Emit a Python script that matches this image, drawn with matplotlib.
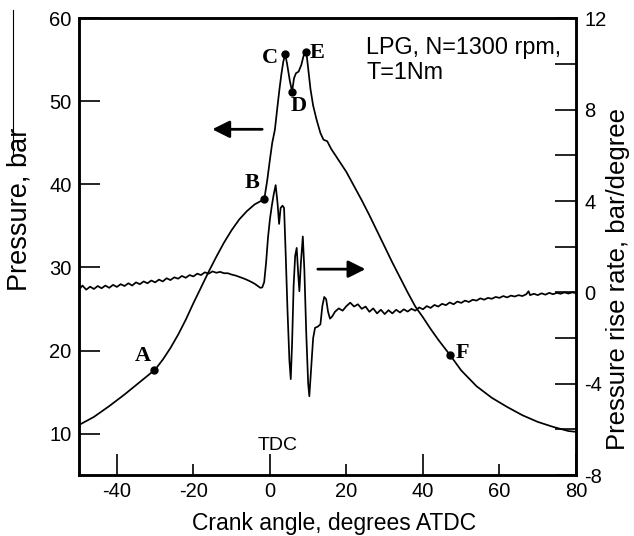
import matplotlib.pyplot as plt
from matplotlib.lines import Line2D

# Dane
p_angle = [-50, -46, -42, -38, -34, -30, -28, -26, -24, -22, -20, -18, -16, -14, -12, -10,
           -8, -6, -4, -2, -1.45, -0.7, 0.0, 0.6, 1.3, 2.0, 2.5, 3.0, 3.5, 4.0, 4.5, 5.2, 5.8,
           6.3, 6.8, 7.5, 8.2, 8.8, 9.5, 10.0, 10.6, 11.3, 12.2, 13.2, 14.0, 15.0, 16.0, 18.0,
           20.0, 22.0, 24.0, 26.0, 28.0, 30.0, 32.0, 34.0, 36.0, 38.0, 40.0, 42.0, 44.0, 47.0,
           50.0, 54.0, 58.0, 62.0, 66.0, 70.0, 74.0, 78.0, 80.0]
pressure = [11.0, 12.0, 13.3, 14.7, 16.2, 17.7, 18.9, 20.3, 21.9, 23.7, 25.7, 27.6, 29.5, 31.3,
            33.0, 34.5, 35.8, 36.8, 37.6, 38.1, 38.3, 40.5, 43.0, 45.0, 46.6, 49.5, 51.5, 53.3,
            54.8, 55.7, 54.5, 52.5, 51.2, 52.8, 53.4, 53.6, 54.4, 55.5, 56.0, 54.0, 51.5, 49.5,
            47.8, 46.2, 45.4, 45.2, 44.3, 42.9, 41.5, 39.8, 38.1, 36.3, 34.4, 32.5, 30.6, 28.8,
            27.0, 25.3, 24.0, 22.6, 21.3, 19.5, 17.6, 15.7, 14.3, 13.2, 12.2, 11.4, 10.8, 10.3,
            10.2]

r_angle = [-50, -49, -48, -47, -46, -45, -44, -43, -42, -41, -40, -39, -38, -37, -36, -35,
           -34, -33, -32, -31, -30, -29, -28, -27, -26, -25, -24, -23, -22, -21, -20, -19,
           -18, -17, -16, -15, -14, -13, -12, -11, -10, -9, -8, -7, -6, -5, -4, -3, -2.5,
           -2.0, -1.5, -1.0, -0.5, 0.0, 0.5, 1.0, 1.5, 2.0, 2.4, 2.8, 3.3, 3.7, 4.1, 4.6, 5.1,
           5.45, 5.8, 6.2, 6.6, 7.0, 7.4, 7.7, 8.1, 8.6, 9.0, 9.5, 10.0, 10.3, 10.8, 11.3,
           11.8, 12.5, 13.2, 13.7, 14.2, 14.7, 15.2, 15.7, 16.3, 17, 18, 19, 20, 21, 22, 23,
           24, 25, 26, 27, 28, 29, 30, 31, 32, 33, 34, 35, 36, 37, 38, 39, 40, 41, 42, 43,
           44, 45, 46, 47, 48, 49, 50, 51, 52, 53, 54, 55, 56, 57, 58, 59, 60, 61, 62, 63,
           64, 65, 66, 67, 67.6, 68, 69, 70, 71, 72, 73, 74, 75, 76, 77, 78, 79, 80]
rate = [0.10, 0.30, 0.12, 0.25, 0.15, 0.28, 0.18, 0.30, 0.20, 0.33, 0.24, 0.36, 0.28, 0.40,
        0.30, 0.44, 0.36, 0.48, 0.40, 0.52, 0.44, 0.56, 0.48, 0.62, 0.54, 0.66, 0.60, 0.72,
        0.64, 0.76, 0.70, 0.82, 0.76, 0.88, 0.82, 0.92, 0.86, 0.90, 0.84, 0.84, 0.78, 0.74,
        0.68, 0.62, 0.55, 0.47, 0.38, 0.26, 0.20, 0.22, 0.45, 1.30, 2.40, 3.20, 3.80, 4.30,
        4.70, 3.90, 3.00, 3.70, 3.80, 3.70, 1.80, -0.80, -3.00, -3.80, -2.20, 0.30, 1.60,
        1.95, 0.80, 0.05, 1.30, 2.45, 1.00, -1.80, -4.00, -4.55, -3.30, -2.00, -1.55, -1.50,
        -1.40, -0.60, -0.20, -0.30, -0.85, -1.15, -1.05, -0.85, -0.70, -0.80, -0.60, -0.45,
        -0.62, -0.52, -0.72, -0.62, -0.85, -0.70, -0.92, -0.76, -0.95, -0.78, -0.92, -0.76,
        -0.88, -0.74, -0.84, -0.72, -0.80, -0.66, -0.74, -0.60, -0.68, -0.55, -0.62, -0.50,
        -0.56, -0.44, -0.52, -0.40, -0.46, -0.36, -0.42, -0.32, -0.36, -0.26, -0.32, -0.24,
        -0.28, -0.20, -0.24, -0.16, -0.22, -0.14, -0.18, -0.12, -0.16, -0.08, 0.05, -0.12,
        -0.06, -0.12, -0.04, -0.10, -0.02, -0.08, -0.02, -0.06, 0.00, -0.05, 0.00, -0.03]

# punkty charakterystyczne A-F
pt_names = ['A', 'B', 'C', 'D', 'E', 'F']
pt_angle = [-30.2, -1.45, 4.0, 5.8, 9.5, 47.0]
pt_pressure = [17.6, 38.3, 55.7, 51.2, 56.0, 19.5]
pt_label_x = [-33.1, -4.6, -0.1, 7.4, 12.3, 50.3]
pt_label_y = [19.3, 40.2, 55.2, 49.5, 55.8, 19.7]

plt.rcParams['font.family'] = ['Liberation Sans', 'DejaVu Sans']
plt.rcParams['axes.unicode_minus'] = False

fig = plt.figure(figsize=(6.34, 5.36), dpi=100)
ax = fig.add_axes([0.124, 0.1138, 0.7845, 0.8517])
ax2 = ax.twinx()

ax.plot(p_angle, pressure, color='black', lw=1.25)
ax.plot(pt_angle, pt_pressure, 'o', color='black', ms=5)
ax2.plot(r_angle, rate, color='black', lw=1.25)

for name, lx, ly in zip(pt_names, pt_label_x, pt_label_y):
    ax.text(lx, ly, name, ha='center', va='center', fontsize=16, fontweight='bold',
            family='Liberation Serif')

ax.set_xlim(-50, 80)
ax.set_ylim(5, 60)
ax2.set_ylim(-8, 12)

# osie i podziałki
ax.set_xticks([-40, 0, 40, 80])
ax.set_xticks([-20, 20, 60], minor=True)
ax.set_xticklabels(['-40', '0', '40', '80'])
ax.set_xticklabels(['-20', '20', '60'], minor=True)
ax.tick_params(axis='x', which='major', direction='in', length=15, width=1.2, labelsize=14.5, pad=5)
ax.tick_params(axis='x', which='minor', direction='in', length=8, width=1.2, labelsize=14.5, pad=5)
ax.set_yticks([10, 20, 30, 40, 50, 60])
ax.tick_params(axis='y', direction='in', length=15, width=1.2, labelsize=14.5, pad=5)
ax2.set_yticks([-8, -4, 0, 4, 8, 12])
ax2.set_yticks([-6, -2, 2, 6, 10], minor=True)
ax2.tick_params(axis='y', which='both', direction='in', length=15, width=1.2, labelsize=14.5, pad=6)

for a in (ax, ax2):
    for s in a.spines.values():
        s.set_linewidth(1.8)

ax.set_xlabel('Crank angle, degrees ATDC', fontsize=16.5)
ax.xaxis.set_label_coords(0.514, -0.08)
ax.set_ylabel('Pressure, bar', fontsize=19.5)
ax.yaxis.set_label_coords(-0.092, 0.582)
ax2.set_ylabel('Pressure rise rate, bar/degree', fontsize=18.5)
ax2.yaxis.set_label_coords(1.06, 0.43)

# strzałki
ax.annotate('', xy=(-15.8, 46.65), xytext=(-1.3, 46.65),
            arrowprops=dict(arrowstyle='-|>', color='black', lw=2, mutation_scale=26))
ax.annotate('', xy=(25.7, 29.8), xytext=(11.8, 29.8),
            arrowprops=dict(arrowstyle='-|>', color='black', lw=2, mutation_scale=26))

ax.text(25.2, 57.9, 'LPG, N=1300 rpm,\nT=1Nm', ha='left', va='top', fontsize=16.8,
        linespacing=1.1)
ax.text(1.9, 8.5, 'TDC', ha='center', va='center', fontsize=14)

fig.add_artist(Line2D([0.02, 0.02], [0.981, 0.71], color='black', lw=0.8))

fig.savefig('out.png', dpi=100)
